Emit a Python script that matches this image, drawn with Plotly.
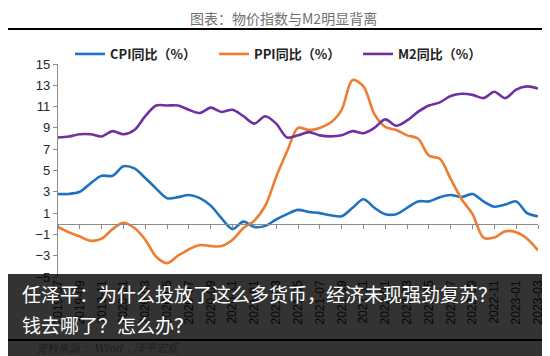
import plotly.graph_objects as go

months = [
    "2019-07","2019-08","2019-09","2019-10","2019-11","2019-12",
    "2020-01","2020-02","2020-03","2020-04","2020-05","2020-06",
    "2020-07","2020-08","2020-09","2020-10","2020-11","2020-12",
    "2021-01","2021-02","2021-03","2021-04","2021-05","2021-06",
    "2021-07","2021-08","2021-09","2021-10","2021-11","2021-12",
    "2022-01","2022-02","2022-03","2022-04","2022-05","2022-06",
    "2022-07","2022-08","2022-09","2022-10","2022-11","2022-12",
    "2023-01","2023-02","2023-03",
]
cpi = [2.8, 2.8, 3.0, 3.8, 4.5, 4.5,
       5.4, 5.2, 4.3, 3.3, 2.4, 2.5,
       2.7, 2.4, 1.7, 0.5, -0.5, 0.2,
       -0.3, -0.2, 0.4, 0.9, 1.3, 1.1,
       1.0, 0.8, 0.7, 1.5, 2.3, 1.5,
       0.9, 0.9, 1.5, 2.1, 2.1, 2.5,
       2.7, 2.5, 2.8, 2.1, 1.6, 1.8,
       2.1, 1.0, 0.7]
ppi = [-0.3, -0.8, -1.2, -1.6, -1.4, -0.5,
       0.1, -0.4, -1.5, -3.1, -3.7, -3.0,
       -2.4, -2.0, -2.1, -2.1, -1.5, -0.4,
       0.3, 1.7, 4.4, 6.8, 9.0, 8.8,
       9.0, 9.5, 10.7, 13.5, 12.9, 10.3,
       9.1, 8.8, 8.3, 8.0, 6.4, 6.1,
       4.2, 2.3, 0.9, -1.3, -1.3, -0.7,
       -0.8, -1.4, -2.5]
m2 = [8.1, 8.2, 8.4, 8.4, 8.2, 8.7,
      8.4, 8.8, 10.1, 11.1, 11.1, 11.1,
      10.7, 10.4, 10.9, 10.5, 10.7, 10.1,
      9.4, 10.1, 9.4, 8.1, 8.3, 8.6,
      8.3, 8.2, 8.3, 8.7, 8.5, 9.0,
      9.8, 9.2, 9.7, 10.5, 11.1, 11.4,
      12.0, 12.2, 12.1, 11.8, 12.4, 11.8,
      12.6, 12.9, 12.7]

series_names = ["CPI同比（%）", "PPI同比（%）", "M2同比（%）"]
series_colors = ["#1f72c0", "#ed7d31", "#7030a0"]
y_ticks = list(range(-5, 16, 2))
x_tick_labels = months[::2]

W, H = 550, 356
L, R, T, B = 50, 20, 56, 87
pw, ph = W - L - R, H - T - B

def px(x):
    return (x - L) / pw

def py(y):
    return (H - B - y) / ph

idx = list(range(len(months)))
fig = go.Figure()
for name, vals, col in zip(series_names, [cpi, ppi, m2], series_colors):
    fig.add_trace(go.Scatter(
        x=idx, y=vals, name=name, mode="lines",
        line=dict(color=col, width=2.6, shape="spline", smoothing=0.9),
        hoverinfo="skip",
    ))
# carrier trace for the zero-line category axis
fig.add_trace(go.Scatter(x=[None], y=[None], xaxis="x2", yaxis="y",
                         showlegend=False, hoverinfo="skip"))

ymin, ymax = -5, 15
zero_pos = (0 - ymin) / (ymax - ymin)

fig.update_layout(
    width=W, height=H,
    margin=dict(l=L, r=R, t=T, b=B),
    paper_bgcolor="white", plot_bgcolor="white",
    showlegend=True,
    legend=dict(orientation="h", x=px(62), y=py(46), xanchor="left", yanchor="middle",
                font=dict(family="Noto Sans CJK SC", size=13, color="#222222", weight="bold"),
                entrywidth=99, entrywidthmode="pixels",
                bgcolor="rgba(0,0,0,0)", itemwidth=30),
    xaxis=dict(range=[0, len(months) - 1], showline=False, showgrid=False, zeroline=False,
               tickmode="array", tickvals=idx[::2], ticktext=x_tick_labels,
               tickangle=-90, ticks="", ticklen=0,
               tickfont=dict(family="Liberation Sans", size=12, color="#262626")),
    xaxis2=dict(range=[0, len(months) - 1], overlaying="x", anchor="free", position=zero_pos,
                side="bottom", showline=True, linecolor="#8c8c8c", linewidth=1.2,
                showgrid=False, zeroline=False,
                tickmode="array", tickvals=idx[::2], ticks="outside", ticklen=4,
                tickcolor="#8c8c8c", showticklabels=False),
    yaxis=dict(range=[ymin, ymax], tickmode="array", tickvals=y_ticks,
               showline=True, linecolor="#8c8c8c", linewidth=1.2,
               ticks="outside", ticklen=4, tickcolor="#8c8c8c",
               showgrid=False, zeroline=False,
               tickfont=dict(family="Liberation Sans", size=13, color="#262626")),
    shapes=[
        dict(type="line", xref="paper", yref="paper", x0=px(0), x1=px(550),
             y0=py(21), y1=py(21), line=dict(color="black", width=2)),
        dict(type="line", xref="paper", yref="paper", x0=px(0), x1=px(550),
             y0=py(332), y1=py(332), line=dict(color="black", width=2)),
        dict(type="rect", xref="paper", yref="paper", x0=px(0), x1=px(550),
             y0=py(266), y1=py(356), fillcolor="rgba(0,0,0,0.8)",
             line=dict(width=0), layer="above"),
    ],
    annotations=[
        dict(text="图表：物价指数与M2明显背离", xref="paper", yref="paper",
             x=px(275), y=py(10), xanchor="center", yanchor="middle", showarrow=False,
             font=dict(family="Noto Sans CJK SC", size=14, color="#707070")),
        dict(text="资料来源： Wind，泽平宏观", xref="paper", yref="paper",
             x=px(26), y=py(340), xanchor="left", yanchor="middle", showarrow=False,
             font=dict(family="DejaVu Serif", size=11, color="#1e1e1e", style="italic")),
        dict(text="任泽平：为什么投放了这么多货币，经济未现强劲复苏？", xref="paper", yref="paper",
             x=px(12), y=py(285), xanchor="left", yanchor="middle", showarrow=False,
             font=dict(family="Noto Sans CJK SC", size=19, color="white")),
        dict(text="钱去哪了？怎么办？", xref="paper", yref="paper",
             x=px(12), y=py(316), xanchor="left", yanchor="middle", showarrow=False,
             font=dict(family="Noto Sans CJK SC", size=19, color="white")),
    ],
)

fig.write_html("out.html")
